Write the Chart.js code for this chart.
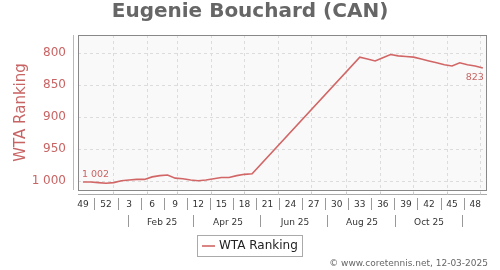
<!DOCTYPE html>
<html>
<head>
<meta charset="utf-8">
<script src="https://cdn.jsdelivr.net/npm/chart.js@4"></script>
<style>
  html, body { margin: 0; padding: 0; background: #fff; }
  #wrap { width: 500px; height: 270px; position: relative; }
</style>
</head>
<body>
<div id="wrap"><canvas id="chart"></canvas></div>
<script>
// weekly ranking points, x = days since 1 Jan 2025 (one point per week)
const weekDays = [
  -27, -20, -13, -6, 1, 8, 15, 22, 29, 36, 43, 50, 57, 64, 71, 78, 85, 92, 99, 106, 113, 120, 127,
  134, 141, 148, 155, 162, 169, 176, 183, 190, 197, 204, 211, 218,
  225, 232, 239, 246, 253, 260, 267, 274, 281, 288, 295, 302, 309, 316, 323, 330, 337
];
const ranks = [
  1002, 1002, 1003, 1004, 1003, 1000, 999, 998, 998, 994, 992, 991, 996, 997, 999, 1000, 999, 997, 995, 995, 992, 990, 989,
  null, null, null, null, null, null, null, null, null, null, null, null, null,
  806, 809, 812, 807, 802, 804, 805, 806, 809, 812, 815, 818, 820, 815, 818, 820, 823
];

// x axis: week numbers (every third week) and the month row
const weekTickDays = [-27, -6, 15, 36, 57, 78, 99, 120, 141, 162, 183, 204, 225, 246, 267, 288, 309, 330];
const weekTickLabels = ['49', '52', '3', '6', '9', '12', '15', '18', '21', '24', '27', '30', '33', '36', '39', '42', '45', '48'];
const monthGridDays = [0, 31, 59, 90, 120, 151, 181, 212, 243, 273, 304, 334];
const monthLabelDays = [45, 105, 166, 227, 288];
const monthLabels = ['Feb 25', 'Apr 25', 'Jun 25', 'Aug 25', 'Oct 25'];
const monthSepDays = [14, 73, 134, 195, 257, 318];
const rankTicks = [800, 850, 900, 950, 1000];

const FONT = 'DejaVu Sans';
const LINE = '#d26666';
const ROSE = '#c96464';

function fmtRank(v) {
  return v >= 1000 ? Math.floor(v / 1000) + ' ' + String(v % 1000).padStart(3, '0') : String(v);
}

const decor = {
  id: 'decor',
  beforeDatasetsDraw(chart) {
    const { ctx, chartArea: a, scales: { x, y } } = chart;
    ctx.save();
    // plot background + grid
    ctx.fillStyle = '#f9f9f9';
    ctx.fillRect(a.left, a.top, a.right - a.left, a.bottom - a.top);
    ctx.strokeStyle = '#dcdcdc';
    ctx.lineWidth = 1;
    ctx.setLineDash([3, 3]);
    rankTicks.forEach(v => {
      const py = Math.round(y.getPixelForValue(v)) + 0.5;
      ctx.beginPath(); ctx.moveTo(a.left, py); ctx.lineTo(a.right, py); ctx.stroke();
    });
    monthGridDays.forEach(d => {
      const px = Math.round(x.getPixelForValue(d)) + 0.5;
      ctx.beginPath(); ctx.moveTo(px, a.top); ctx.lineTo(px, a.bottom); ctx.stroke();
    });
    ctx.restore();
  },
  afterDatasetsDraw(chart) {
    const { ctx, chartArea: a, scales: { x, y } } = chart;
    ctx.save();
    // plot border
    ctx.strokeStyle = '#888';
    ctx.lineWidth = 1;
    ctx.strokeRect(a.left + 0.5, a.top + 0.5, a.right - a.left - 1, a.bottom - a.top);

    // y axis line (offset left of the plot)
    ctx.strokeStyle = '#e0a8a8';
    ctx.beginPath(); ctx.moveTo(a.left - 4.5, a.top); ctx.lineTo(a.left - 4.5, a.bottom); ctx.stroke();

    // x axis line (offset below the plot) with month ticks
    const axY = a.bottom + 4.5;
    ctx.strokeStyle = '#aaa';
    ctx.beginPath(); ctx.moveTo(a.left, axY); ctx.lineTo(a.right, axY); ctx.stroke();
    ctx.strokeStyle = '#ccc';
    monthGridDays.forEach(d => {
      const px = Math.round(x.getPixelForValue(d)) + 0.5;
      ctx.beginPath(); ctx.moveTo(px, axY - 3); ctx.lineTo(px, axY); ctx.stroke();
    });

    // separators between week labels
    ctx.strokeStyle = '#999';
    for (let i = 0; i < weekTickDays.length - 1; i++) {
      const px = Math.round(x.getPixelForValue((weekTickDays[i] + weekTickDays[i + 1]) / 2)) + 0.5;
      ctx.beginPath(); ctx.moveTo(px, a.bottom + 8); ctx.lineTo(px, a.bottom + 20); ctx.stroke();
    }
    // month row
    monthSepDays.forEach(d => {
      const px = Math.round(x.getPixelForValue(d)) + 0.5;
      ctx.beginPath(); ctx.moveTo(px, a.bottom + 25); ctx.lineTo(px, a.bottom + 37); ctx.stroke();
    });
    ctx.fillStyle = '#333';
    ctx.font = '9px ' + FONT;
    ctx.textAlign = 'center';
    ctx.textBaseline = 'middle';
    monthLabels.forEach((m, i) => {
      ctx.fillText(m, x.getPixelForValue(monthLabelDays[i]), a.bottom + 33);
    });

    // first / last value labels
    const meta = chart.getDatasetMeta(0).data;
    const first = meta[0], last = meta[meta.length - 1];
    ctx.fillStyle = ROSE;
    ctx.font = '9.5px ' + FONT;
    ctx.textBaseline = 'alphabetic';
    ctx.textAlign = 'left';
    ctx.fillText(fmtRank(ranks[0]), first.x - 1, first.y - 5);
    ctx.textAlign = 'right';
    ctx.fillText(fmtRank(ranks[ranks.length - 1]), last.x + 1, last.y + 12);

    // legend box
    ctx.strokeStyle = '#aaa';
    ctx.fillStyle = '#fff';
    ctx.fillRect(197, 235, 106, 22);
    ctx.strokeRect(197.5, 235.5, 105, 21);
    ctx.strokeStyle = LINE;
    ctx.lineWidth = 1.6;
    ctx.beginPath(); ctx.moveTo(202, 246); ctx.lineTo(215, 246); ctx.stroke();
    ctx.fillStyle = '#222';
    ctx.font = '12px ' + FONT;
    ctx.textAlign = 'left';
    ctx.textBaseline = 'middle';
    ctx.fillText(chart.data.datasets[0].label, 219, 246);

    // credit
    ctx.fillStyle = '#666';
    ctx.font = '9px ' + FONT;
    ctx.textAlign = 'right';
    ctx.textBaseline = 'alphabetic';
    ctx.fillText('\u00a9 www.coretennis.net, 12-03-2025', 488, 266);
    ctx.restore();
  }
};

new Chart(document.getElementById('chart'), {
  type: 'line',
  data: {
    datasets: [{
      label: 'WTA Ranking',
      data: weekDays.map((d, i) => ({ x: d, y: ranks[i] })),
      borderColor: LINE,
      borderWidth: 1.6,
      pointRadius: 0,
      tension: 0,
      spanGaps: true,
      fill: false
    }]
  },
  options: {
    responsive: true,
    maintainAspectRatio: false,
    animation: false,
    devicePixelRatio: 1,
    layout: { padding: 0 },
    plugins: {
      legend: { display: false },
      tooltip: { enabled: false },
      title: {
        display: true,
        text: 'Eugenie Bouchard (CAN)',
        color: '#666',
        font: { family: FONT, size: 20, weight: 'bold' },
        padding: { top: 0, bottom: 11 }
      }
    },
    scales: {
      x: {
        type: 'linear',
        min: -31.5,
        max: 340.8,
        afterFit: s => { s.height = 80; },
        afterBuildTicks: s => { s.ticks = weekTickDays.map(v => ({ value: v })); },
        grid: { display: false, drawTicks: false },
        border: { display: false },
        ticks: {
          autoSkip: false,
          maxRotation: 0,
          padding: 9,
          color: '#333',
          font: { family: FONT, size: 9 },
          callback: (v, i) => weekTickLabels[i]
        }
      },
      y: {
        reverse: true,
        min: 771.3,
        max: 1014.6,
        afterFit: s => { s.width = 78; },
        afterBuildTicks: s => { s.ticks = rankTicks.map(v => ({ value: v })); },
        grid: { display: false, drawTicks: false },
        border: { display: false },
        ticks: {
          padding: 12,
          color: ROSE,
          font: { family: FONT, size: 12 },
          callback: v => fmtRank(v)
        },
        title: {
          display: true,
          text: 'WTA Ranking',
          color: ROSE,
          font: { family: FONT, size: 15 },
          padding: { top: 12, bottom: 0 }
        }
      },
      // empty right-hand gutter so the title centres on the full width
      yGutter: {
        position: 'right',
        afterFit: s => { s.width = 13; },
        grid: { display: false, drawTicks: false },
        border: { display: false },
        ticks: { display: false }
      }
    }
  },
  plugins: [decor]
});
</script>
</body>
</html>
